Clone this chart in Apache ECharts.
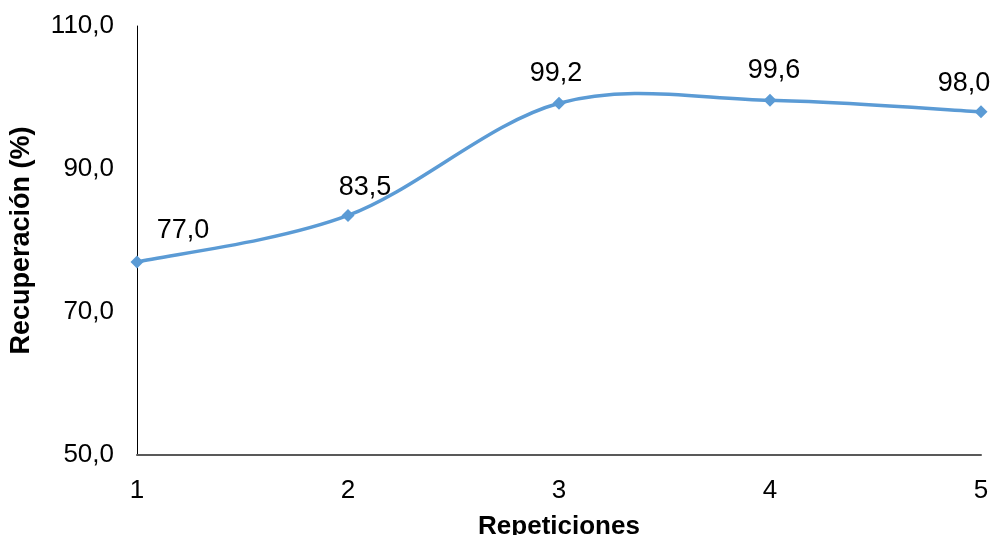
<!DOCTYPE html>
<html>
<head>
<meta charset="utf-8">
<script src="https://cdn.jsdelivr.net/npm/echarts@6/dist/echarts.min.js"></script>
<style>
  html, body { margin: 0; padding: 0; background: #fff; }
  #chart { width: 993px; height: 535px; }
</style>
</head>
<body>
<div id="chart"></div>
<script>
// Recovery per repetition
const repeticiones = ['1', '2', '3', '4', '5'];
const recuperacion = [77.0, 83.5, 99.2, 99.6, 98.0];

// Label nudges (px) so each value sits clear of the curve
const labelNudge = [[46, -31], [17, -28], [-3, -30], [4, -30], [-17, -28]];

const FONT = '"Liberation Sans", Arial, sans-serif';
const LINE_COLOR = '#5B9BD5';
const fmt = v => v.toFixed(1).replace('.', ',');

const seriesData = recuperacion.map((v, i) => ({
  value: v,
  label: { offset: labelNudge[i] }
}));

// Cardinal-spline curve through the data points (control points at 1/6 of the
// neighbour span), drawn once from the axis-projected coordinates.
function renderCurve(params, api) {
  if (params.dataIndex !== 0) return null;
  const pts = recuperacion.map((v, i) => api.coord([i, v]));
  const children = [];
  for (let i = 0; i < pts.length - 1; i++) {
    const p0 = pts[Math.max(i - 1, 0)];
    const p1 = pts[i];
    const p2 = pts[i + 1];
    const p3 = pts[Math.min(i + 2, pts.length - 1)];
    children.push({
      type: 'bezierCurve',
      shape: {
        x1: p1[0], y1: p1[1],
        cpx1: p1[0] + (p2[0] - p0[0]) / 6, cpy1: p1[1] + (p2[1] - p0[1]) / 6,
        cpx2: p2[0] - (p3[0] - p1[0]) / 6, cpy2: p2[1] - (p3[1] - p1[1]) / 6,
        x2: p2[0], y2: p2[1]
      },
      style: { stroke: LINE_COLOR, lineWidth: 3.5, fill: null, lineCap: 'round' }
    });
  }
  return { type: 'group', children };
}

const chart = echarts.init(document.getElementById('chart'), null, { renderer: 'canvas' });
chart.setOption({
  animation: false,
  backgroundColor: '#ffffff',
  grid: { left: 137, right: 12, top: 26, bottom: 80, containLabel: false, outerBoundsMode: 'none' },
  xAxis: {
    type: 'category',
    data: repeticiones,
    boundaryGap: false,
    name: 'Repeticiones',
    nameLocation: 'middle',
    nameGap: 59,
    nameTextStyle: { fontFamily: FONT, fontSize: 26, fontWeight: 'bold', color: '#000' },
    axisLine: { lineStyle: { color: '#595959', width: 2 } },
    axisTick: { show: false },
    axisLabel: { fontFamily: FONT, fontSize: 26, color: '#000', margin: 23 },
    splitLine: { show: false }
  },
  yAxis: {
    type: 'value',
    min: 50,
    max: 110,
    interval: 20,
    name: 'Recuperación (%)',
    nameLocation: 'middle',
    nameGap: 102,
    nameRotate: 90,
    nameTextStyle: { fontFamily: FONT, fontSize: 27, fontWeight: 'bold', color: '#000' },
    axisLine: { show: true, lineStyle: { color: '#000', width: 1 } },
    axisTick: { show: false },
    axisLabel: { fontFamily: FONT, fontSize: 26, color: '#000', margin: 23, formatter: fmt },
    splitLine: { show: false }
  },
  series: [
    {
      type: 'custom',
      data: recuperacion.map((v, i) => [i, v]),
      encode: { x: 0, y: 1 },
      renderItem: renderCurve,
      clip: false,
      silent: true,
      z: 1
    },
    {
      type: 'line',
      data: seriesData,
      symbol: 'diamond',
      symbolSize: 13,
      lineStyle: { opacity: 0 },
      itemStyle: { color: LINE_COLOR },
      z: 2,
      label: {
        show: true,
        position: 'inside',
        align: 'center',
        verticalAlign: 'middle',
        fontFamily: FONT,
        fontSize: 27,
        color: '#000',
        formatter: p => fmt(p.value)
      }
    }
  ]
});
</script>
</body>
</html>
